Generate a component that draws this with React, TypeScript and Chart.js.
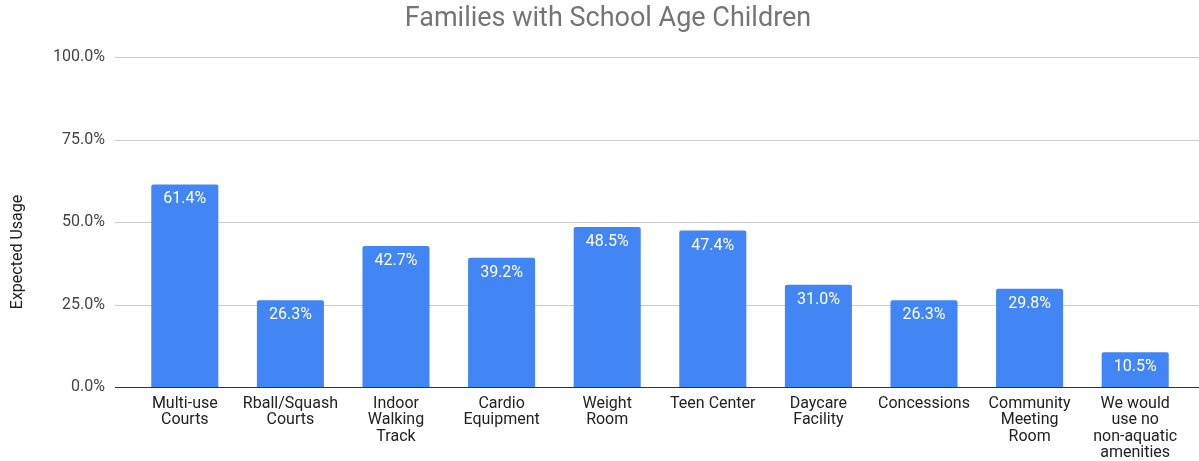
import React, { useEffect, useRef } from "react";
import { Chart, registerables } from "chart.js";

Chart.register(...registerables);

const chartTitle = "Families with School Age Children";
const yAxisTitle = "Expected Usage";
const categories: (string | string[])[] = [
  ["Multi-use", "Courts"],
  ["Rball/Squash", "Courts"],
  ["Indoor", "Walking", "Track"],
  ["Cardio", "Equipment"],
  ["Weight", "Room"],
  "Teen Center",
  ["Daycare", "Facility"],
  "Concessions",
  ["Community", "Meeting", "Room"],
  ["We would", "use no", "non-aquatic", "amenities"],
];
const usage = [61.4, 26.3, 42.7, 39.2, 48.5, 47.4, 31.0, 26.3, 29.8, 10.5];
const yTicks = [0, 25, 50, 75, 100];

const FONT = "Roboto, 'Noto Sans', Arial, sans-serif";

const gridPlugin = {
  id: "fullGrid",
  beforeDatasetsDraw(chart: any) {
    const { ctx, scales } = chart;
    const y = scales.y;
    ctx.save();
    yTicks.forEach((v) => {
      const py = Math.round(y.getPixelForValue(v)) + 0.5;
      ctx.beginPath();
      ctx.strokeStyle = v === 0 ? "#333333" : "#cccccc";
      ctx.lineWidth = 1;
      ctx.moveTo(115, py);
      ctx.lineTo(1199, py);
      ctx.stroke();
    });
    ctx.restore();
  },
  afterDatasetsDraw(chart: any) {
    const { ctx } = chart;
    const meta = chart.getDatasetMeta(0);
    ctx.save();
    ctx.font = `16px ${FONT}`;
    ctx.fillStyle = "#ffffff";
    ctx.textAlign = "center";
    ctx.textBaseline = "middle";
    meta.data.forEach((bar: any, i: number) => {
      ctx.fillText(usage[i].toFixed(1) + "%", bar.x, bar.y + 15);
    });
    ctx.font = `27px ${FONT}`;
    ctx.fillStyle = "#757575";
    ctx.fillText(chartTitle, 608, 19);
    ctx.translate(18, 252);
    ctx.rotate(-Math.PI / 2);
    ctx.font = `16px ${FONT}`;
    ctx.fillStyle = "#222222";
    ctx.fillText(yAxisTitle, 0, 0);
    ctx.restore();
  },
};

export default function App() {
  const ref = useRef<HTMLCanvasElement>(null);
  useEffect(() => {
    if (!ref.current) return;
    const chart = new Chart(ref.current, {
      type: "bar",
      data: {
        labels: categories,
        datasets: [
          {
            data: usage,
            backgroundColor: "#4285f4",
            borderRadius: 2,
            barPercentage: 0.635,
            categoryPercentage: 1,
          },
        ],
      },
      options: {
        animation: false,
        responsive: true,
        maintainAspectRatio: false,
        layout: { padding: { top: 57, right: 11, bottom: 0, left: 0 } },
        plugins: {
          legend: { display: false },
          tooltip: { enabled: false },
          title: { display: false },
        },
        scales: {
          x: {
            grid: { display: false, drawTicks: false },
            border: { display: false },
            ticks: {
              color: "#222222",
              font: { family: FONT, size: 16, lineHeight: 1.02 },
              padding: 9,
              maxRotation: 0,
              autoSkip: false,
            },
            afterFit(scale: any) {
              scale.height = 74;
            },
          },
          y: {
            min: 0,
            max: 100,
            afterBuildTicks(scale: any) {
              scale.ticks = yTicks.map((v) => ({ value: v }));
            },
            grid: { display: false, drawTicks: false },
            border: { display: false },
            ticks: {
              color: "#444444",
              font: { family: FONT, size: 16 },
              padding: 27,
              callback: (v: any) => Number(v).toFixed(1) + "%",
            },
            title: { display: false },
            afterFit(scale: any) {
              scale.width = 132;
            },
          },
        },
      },
      plugins: [gridPlugin],
    });
    return () => chart.destroy();
  }, []);
  return (
    <div
      style={{
        position: "fixed",
        left: 0,
        top: 0,
        width: 1199,
        height: 461,
        background: "#fff",
      }}
    >
      <canvas ref={ref} />
    </div>
  );
}
